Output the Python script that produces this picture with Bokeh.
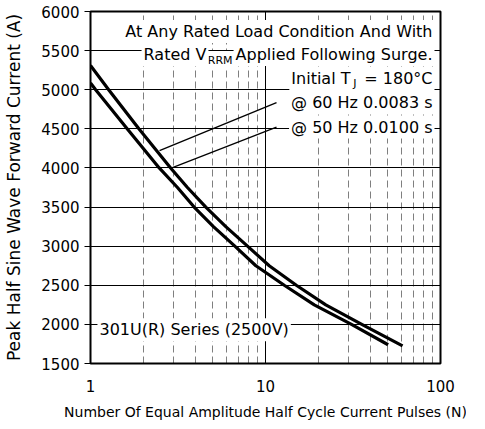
from bokeh.plotting import figure
from bokeh.models import FixedTicker, Label
from bokeh.embed import file_html
from bokeh.resources import INLINE

# ---- data ----
n_60hz = [1, 1.27, 1.89, 2.87, 3.58, 4.56, 5.93, 7.89, 10.5, 15.0, 22.1, 35.5, 60.7]
i_60hz = [5310, 5000, 4500, 4000, 3750, 3500, 3250, 3000, 2750, 2500, 2250, 2000, 1725]
n_50hz = [1, 1.07, 1.62, 2.47, 3.14, 3.91, 5.04, 6.68, 8.81, 12.8, 19.0, 31.0, 50.2]
i_50hz = [5086, 5000, 4500, 4000, 3750, 3500, 3250, 3000, 2750, 2500, 2250, 2000, 1740]

leader60_n = [2.48, 11.56]
leader60_i = [4222, 4836]
leader50_n = [2.94, 11.56]
leader50_i = [4005, 4523]

x_ticks = [1, 10, 100]
x_minor = [2, 3, 4, 5, 6, 7, 8, 9, 20, 30, 40, 50, 60, 70, 80, 90]
y_ticks = [1500, 2000, 2500, 3000, 3500, 4000, 4500, 5000, 5500, 6000]

FONT = "DejaVu Sans"

p = figure(x_axis_type="log", x_range=(1, 100), y_range=(1500, 6000),
           frame_width=350, frame_height=352,
           min_border_left=90, min_border_right=26, min_border_top=11, min_border_bottom=52,
           output_backend="svg", toolbar_location=None)
p.background_fill_color = "white"
p.border_fill_color = "white"
p.outline_line_color = "black"
p.outline_line_width = 2

# axes
p.xaxis.ticker = FixedTicker(ticks=x_ticks, minor_ticks=x_minor)
p.yaxis.ticker = FixedTicker(ticks=y_ticks)
p.xaxis.major_label_overrides = {1: "1", 10: "10", 100: "100"}
for ax in (p.xaxis[0], p.yaxis[0]):
    ax.axis_line_color = None
    ax.minor_tick_line_color = None
    ax.major_label_text_font = FONT
    ax.major_label_text_font_size = "15px"
    ax.major_label_text_color = "black"
    ax.axis_label_text_font = FONT
    ax.axis_label_text_font_style = "normal"
    ax.axis_label_text_color = "black"
p.xaxis.major_tick_line_color = None
p.xaxis.major_tick_out = 0
p.xaxis.major_label_standoff = 12
p.xaxis.axis_label = "Number Of Equal Amplitude Half Cycle Current Pulses (N)"
p.xaxis.axis_label_text_font_size = "14px"
p.xaxis.axis_label_standoff = 9
p.yaxis.major_tick_line_color = "black"
p.yaxis.major_tick_out = 6
p.yaxis.major_tick_in = 0
p.yaxis.major_label_standoff = 5
p.yaxis.axis_label = "Peak Half Sine Wave Forward Current (A)"
p.yaxis.axis_label_text_font_size = "17px"
p.yaxis.axis_label_standoff = 14

# grids
p.ygrid.grid_line_color = "black"
p.ygrid.grid_line_width = 1.2
p.xgrid.grid_line_color = "black"
p.xgrid.grid_line_width = 1
p.xgrid.minor_grid_line_color = "black"
p.xgrid.minor_grid_line_alpha = 0.5
p.xgrid.minor_grid_line_dash = "7 4"
p.xgrid.minor_grid_line_width = 1

# curves
p.line(n_60hz, i_60hz, line_color="black", line_width=3.2, line_join="round")
p.line(n_50hz, i_50hz, line_color="black", line_width=3.2, line_join="round")

# leader lines
p.line(leader60_n, leader60_i, line_color="black", line_width=1.3)
p.line(leader50_n, leader50_i, line_color="black", line_width=1.3)


def lab(x, y, text, size="16px", align="right", pad=1):
    p.add_layout(Label(x=x, y=y, text=text, text_font=FONT, text_font_size=size,
                       text_align=align, text_baseline="middle", text_color="black",
                       background_fill_color="white", padding=pad))


lab(92.4, 5744, "At Any Rated Load Condition And With", pad=2)
lab(6.74, 5373, "RRM", size="11px", pad=3)
lab(92.4, 5450, "Applied Following Surge.", pad=2)
lab(4.72, 5450, "Rated V", pad=2)
lab(92.4, 5143, "\u00a0\u00a0= 180°C", pad=2)
lab(31.4, 5143, "Initial T", pad=2)
lab(33.6, 5079, "J", size="11px", pad=1)
lab(92.4, 4836, "@ 60 Hz 0.0083 s", pad=2)
lab(92.4, 4523, "@ 50 Hz 0.0100 s", pad=2)
lab(1.096, 1933, "301U(R) Series (2500V)", align="left", pad=2)

open("out.html", "w").write(file_html(p, INLINE))
